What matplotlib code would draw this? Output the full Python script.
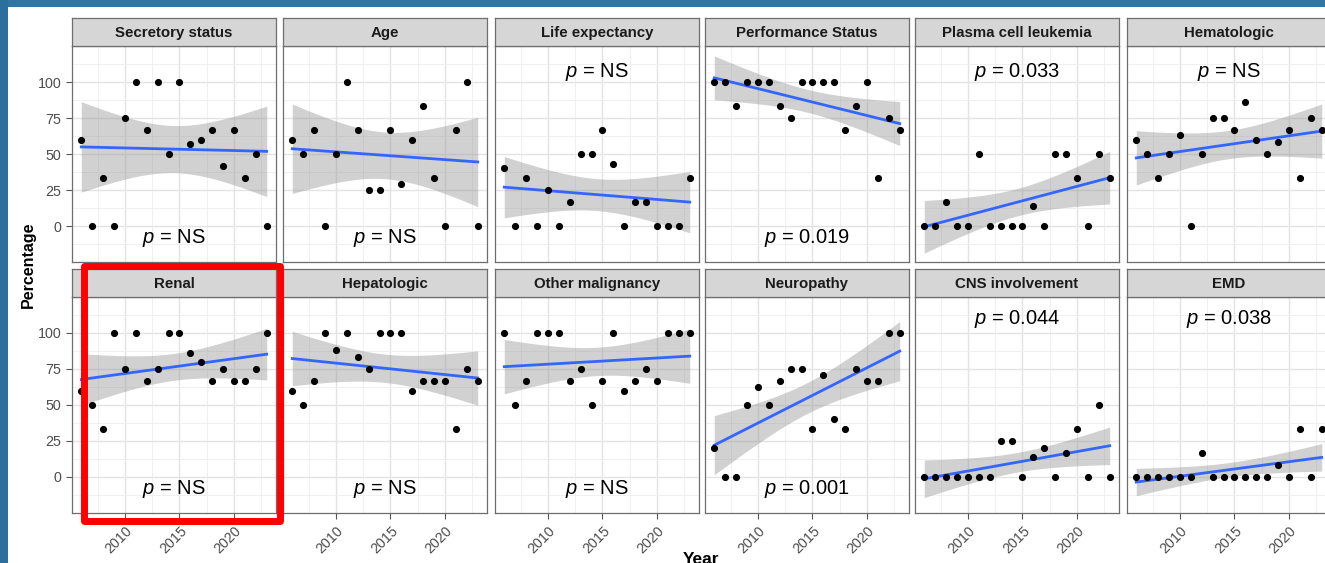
import numpy as np
import matplotlib.pyplot as plt
from matplotlib.patches import Rectangle

plt.rcParams['font.family'] = ['Liberation Sans', 'DejaVu Sans']
plt.rcParams['mathtext.fontset'] = 'custom'
plt.rcParams['mathtext.rm'] = 'Liberation Sans'
plt.rcParams['mathtext.it'] = 'Liberation Sans:italic'

years = np.arange(2006, 2024)

# percentage of studies reporting each criterion, per publication year
secretory = [60, 0, 33, 0, 75, 100, 67, 100, 50, 100, 57, 60, 67, 42, 67, 33, 50, 0]
age = [60, 50, 67, 0, 50, 100, 67, 25, 25, 67, 29, 60, 83, 33, 0, 67, 100, 0]
life_exp = [40, 0, 33, 0, 25, 0, 17, 50, 50, 67, 43, 0, 17, 17, 0, 0, 0, 33]
performance = [100, 100, 83, 100, 100, 100, 83, 75, 100, 100, 100, 100, 67, 83, 100, 33, 75, 67]
pcl = [0, 0, 17, 0, 0, 50, 0, 0, 0, 0, 14, 0, 50, 50, 33, 0, 50, 33]
hematologic = [60, 50, 33, 50, 63, 0, 50, 75, 75, 67, 86, 60, 50, 58, 67, 33, 75, 67]
renal = [60, 50, 33, 100, 75, 100, 67, 75, 100, 100, 86, 80, 67, 75, 67, 67, 75, 100]
hepatologic = [60, 50, 67, 100, 88, 100, 83, 75, 100, 100, 100, 60, 67, 67, 67, 33, 75, 67]
other_malig = [100, 50, 67, 100, 100, 100, 67, 75, 50, 67, 100, 60, 67, 75, 67, 100, 100, 100]
neuropathy = [20, 0, 0, 50, 62.5, 50, 67, 75, 75, 33, 71, 40, 33, 75, 67, 67, 100, 100]
cns = [0, 0, 0, 0, 0, 0, 0, 25, 25, 0, 14, 20, 0, 17, 33, 0, 50, 0]
emd = [0, 0, 0, 0, 0, 0, 17, 0, 0, 0, 0, 0, 0, 8, 0, 33, 0, 33]

titles = ["Secretory status", "Age", "Life expectancy", "Performance Status",
          "Plasma cell leukemia", "Hematologic", "Renal", "Hepatologic",
          "Other malignancy", "Neuropathy", "CNS involvement", "EMD"]
series = [secretory, age, life_exp, performance, pcl, hematologic,
          renal, hepatologic, other_malig, neuropathy, cns, emd]
p_text = ["NS", "NS", "NS", "0.019", "0.033", "NS",
          "NS", "NS", "NS", "0.001", "0.044", "0.038"]
p_top = [False, False, True, False, True, True,
         False, False, False, False, True, True]

T975_DF16 = 2.119905  # t quantile for a 95% band with 18 points


def lm_band(x, y, xs):
    x = np.asarray(x, float)
    y = np.asarray(y, float)
    n = len(x)
    xm, ym = x.mean(), y.mean()
    sxx = np.sum((x - xm) ** 2)
    b1 = np.sum((x - xm) * (y - ym)) / sxx
    b0 = ym - b1 * xm
    resid = y - (b0 + b1 * x)
    s = np.sqrt(np.sum(resid ** 2) / (n - 2))
    fit = b0 + b1 * xs
    se = s * np.sqrt(1.0 / n + (xs - xm) ** 2 / sxx)
    return fit, fit - T975_DF16 * se, fit + T975_DF16 * se


W, H = 1325, 563
fig = plt.figure(figsize=(W / 100, H / 100), dpi=100)

# slide frame
fig.patches.append(Rectangle((0, 1 - 7 / H), 1, 7 / H, transform=fig.transFigure,
                             facecolor='#2e76a6', edgecolor='none', zorder=0))
fig.patches.append(Rectangle((0, 0), 8 / W, 1, transform=fig.transFigure,
                             facecolor='#2a6f9e', edgecolor='none', zorder=0))

col_left = [72, 283, 495, 705, 915, 1127]
pw = 204
row_strip_top = [18, 269]
strip_h = 28
ph = 216

xs = np.linspace(years.min(), years.max(), 100)

for i, (title, vals) in enumerate(zip(titles, series)):
    r, c = divmod(i, 6)
    left = col_left[c]
    st = row_strip_top[r]
    ptop = st + strip_h

    ax = fig.add_axes([left / W, 1 - (ptop + ph) / H, pw / W, ph / H])
    sax = fig.add_axes([left / W, 1 - ptop / H, pw / W, strip_h / H])

    # strip
    sax.set_facecolor('#d6d6d6')
    sax.set_xticks([])
    sax.set_yticks([])
    for sp in sax.spines.values():
        sp.set_color('#6e6e6e')
        sp.set_linewidth(0.9)
    sax.text(0.5, 0.48, title, ha='center', va='center', fontsize=10.8,
             fontweight='bold', color='#1a1a1a', transform=sax.transAxes)

    # panel
    ax.set_facecolor('white')
    ax.set_xlim(2005.15, 2023.85)
    ax.set_ylim(-25, 125)
    ax.set_xticks([2010, 2015, 2020])
    ax.set_xticks([2007.5, 2012.5, 2017.5, 2022.5], minor=True)
    ax.set_yticks([0, 25, 50, 75, 100])
    ax.set_yticks([-12.5, 12.5, 37.5, 62.5, 87.5, 112.5], minor=True)
    ax.grid(which='major', color='#e3e3e3', linewidth=1.0, zorder=0)
    ax.grid(which='minor', color='#eeeeee', linewidth=0.6, zorder=0)
    ax.set_axisbelow(True)
    for sp in ax.spines.values():
        sp.set_color('#6e6e6e')
        sp.set_linewidth(0.9)
    ax.tick_params(which='minor', length=0)
    ax.tick_params(which='major', length=4, width=0.8, color='#555555',
                   labelsize=10.3, labelcolor='#4d4d4d')
    if c != 0:
        ax.tick_params(axis='y', left=False, labelleft=False)
    if r == 0:
        ax.tick_params(axis='x', bottom=False, labelbottom=False)
    else:
        for lab in ax.get_xticklabels():
            lab.set_rotation(45)
            lab.set_ha('right')
            lab.set_rotation_mode('anchor')

    fit, lo, hi = lm_band(years, vals, xs)
    ax.fill_between(xs, lo, hi, color='#999999', alpha=0.45, linewidth=0, zorder=2)
    ax.plot(xs, fit, color='#3366ff', linewidth=2.0, zorder=3)
    ax.scatter(years, vals, s=17, color='black', zorder=4, clip_on=False)

    py = (107 if r == 0 else 110) if p_top[i] else -8
    ax.text(2014.5, py, '$p$ = ' + p_text[i], ha='center', va='center',
            fontsize=14.5, color='black', zorder=5)

fig.text(28 / W, 1 - 265 / H, 'Percentage', rotation=90, ha='center', va='center',
         fontsize=11.5, fontweight='bold')
fig.text(701 / W, 1 - 552 / H, 'Year', ha='center', va='top',
         fontsize=12.5, fontweight='bold')

# highlight box around the Renal panel
fig.patches.append(Rectangle((83.5 / W, 1 - 520.5 / H), 196 / W, 255 / H,
                             transform=fig.transFigure, fill=False,
                             edgecolor='#ff0000', linewidth=5.0,
                             joinstyle='round', zorder=10))

fig.savefig('out.png', dpi=100)
